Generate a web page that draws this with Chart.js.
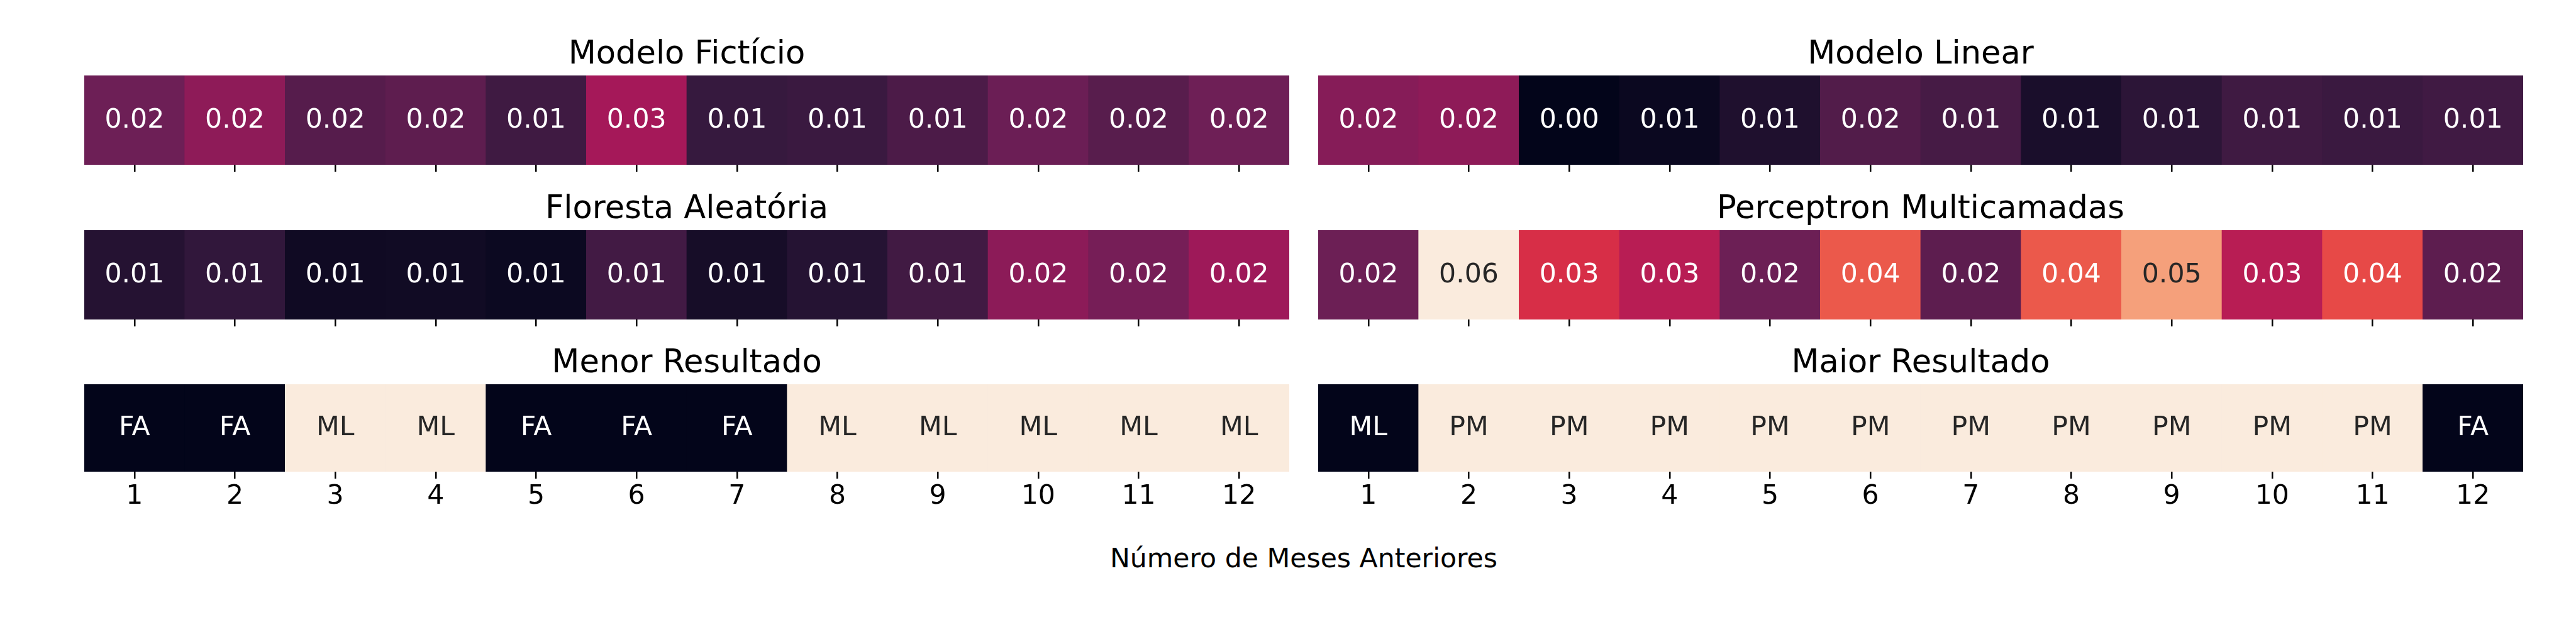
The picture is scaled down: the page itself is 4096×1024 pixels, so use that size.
<!DOCTYPE html>
<html>
<head>
<meta charset="utf-8">
<script src="https://cdn.jsdelivr.net/npm/chart.js@4.4.0/dist/chart.umd.min.js"></script>
<style>
  html, body { margin: 0; padding: 0; background: #fff; }
  body { width: 4096px; height: 1024px; position: relative; overflow: hidden; font-family: "DejaVu Sans"; }
  .panel { position: absolute; }
  #xlabel { position: absolute; left: 0; width: 4146px; text-align: center; font-size: 42.6px; line-height: 42.6px; color: #000; white-space: nowrap; }
</style>
</head>
<body>
<div id="xlabel">Número de Meses Anteriores</div>
<script>
// data
const months = ["1", "2", "3", "4", "5", "6", "7", "8", "9", "10", "11", "12"];
const modeloFicticio = [0.0187, 0.0228, 0.0157, 0.0167, 0.0127, 0.0256, 0.0116, 0.0121, 0.0144, 0.0184, 0.0160, 0.0188];
const modeloLinear = [0.0218, 0.0228, 0.0039, 0.0051, 0.0081, 0.0152, 0.0136, 0.0074, 0.0101, 0.0127, 0.0121, 0.0129];
const florestaAleatoria = [0.0090, 0.0109, 0.0058, 0.0060, 0.0053, 0.0132, 0.0069, 0.0091, 0.0130, 0.0225, 0.0198, 0.0248];
const perceptronMulticamadas = [0.0185, 0.0569, 0.0327, 0.0282, 0.0185, 0.0385, 0.0166, 0.0385, 0.0469, 0.0282, 0.0367, 0.0166];
const menorResultado = ["FA", "FA", "ML", "ML", "FA", "FA", "FA", "ML", "ML", "ML", "ML", "ML"];
const maiorResultado = ["ML", "PM", "PM", "PM", "PM", "PM", "PM", "PM", "PM", "PM", "PM", "FA"];

// seaborn "rocket" colormap, piecewise
const ROCKET = [
  [0, 3, 5, 26], [1 / 7, 53, 25, 62], [2 / 7, 112, 31, 87], [3 / 7, 173, 23, 89],
  [4 / 7, 225, 51, 66], [5 / 7, 243, 118, 81], [6 / 7, 246, 180, 143], [1, 250, 235, 221]
];
function rocket(t) {
  t = Math.max(0, Math.min(1, t));
  for (let i = 1; i < ROCKET.length; i++) {
    if (t <= ROCKET[i][0]) {
      const a = ROCKET[i - 1], b = ROCKET[i];
      const f = (t - a[0]) / (b[0] - a[0]);
      return [1, 2, 3].map(k => Math.round(a[k] + f * (b[k] - a[k])));
    }
  }
  return ROCKET[ROCKET.length - 1].slice(1);
}
function luminance(rgb) {
  const c = rgb.map(v => { v /= 255; return v <= 0.03928 ? v / 12.92 : Math.pow((v + 0.055) / 1.055, 2.4); });
  return 0.2126 * c[0] + 0.7152 * c[1] + 0.0722 * c[2];
}
const css = rgb => `rgb(${rgb[0]},${rgb[1]},${rgb[2]})`;
const textFor = rgb => luminance(rgb) > 0.408 ? "#262626" : "#ffffff";

// shared colour scale for the four numeric panels
const allVals = [].concat(modeloFicticio, modeloLinear, florestaAleatoria, perceptronMulticamadas);
const vmin = Math.min(...allVals), vmax = Math.max(...allVals);

function numericCells(vals) {
  const rgbs = vals.map(v => rocket((v - vmin) / (vmax - vmin)));
  return { text: vals.map(v => v.toFixed(2)), colors: rgbs.map(css), textColors: rgbs.map(textFor) };
}
function categoryCells(cats) {
  // most frequent winner is light, the others dark
  const counts = {};
  cats.forEach(c => counts[c] = (counts[c] || 0) + 1);
  const mode = Object.keys(counts).sort((a, b) => counts[b] - counts[a])[0];
  const rgbs = cats.map(c => rocket(c === mode ? 1 : 0));
  return { text: cats.slice(), colors: rgbs.map(css), textColors: rgbs.map(textFor) };
}

// layout (px, already at 0.682 scale)
const panelX = [134, 2096];
const panelW = 1916;
const rowTop = [120, 366, 611];
const cellH = 142;
const TITLE_BLOCK = 69;

const cellLabels = {
  id: "cellLabels",
  afterDatasetsDraw(chart) {
    const { ctx, chartArea } = chart;
    const ds = chart.data.datasets[0];
    const meta = chart.getDatasetMeta(0);
    const yMid = (chartArea.top + chartArea.bottom) / 2;
    ctx.save();
    ctx.font = '42.6px "DejaVu Sans"';
    ctx.textAlign = "center";
    ctx.textBaseline = "alphabetic";
    meta.data.forEach((bar, i) => {
      ctx.fillStyle = ds.cellTextColors[i];
      ctx.fillText(ds.cellText[i], bar.x, yMid + 11.6);
    });
    ctx.restore();
  }
};

function makePanel(row, col, title, cells) {
  const showLabels = row === 2;
  const axisH = showLabels ? 65 : 11;
  const h = TITLE_BLOCK + cellH + axisH;
  const div = document.createElement("div");
  div.className = "panel";
  div.style.left = panelX[col] + "px";
  div.style.top = (rowTop[row] - TITLE_BLOCK) + "px";
  div.style.width = panelW + "px";
  div.style.height = h + "px";
  const canvas = document.createElement("canvas");
  canvas.width = panelW;
  canvas.height = h;
  div.appendChild(canvas);
  document.body.appendChild(div);

  new Chart(canvas, {
    type: "bar",
    data: {
      labels: months,
      datasets: [{
        data: months.map(() => 1),
        backgroundColor: cells.colors,
        borderWidth: 0,
        barPercentage: 1,
        categoryPercentage: 1,
        cellText: cells.text,
        cellTextColors: cells.textColors
      }]
    },
    options: {
      responsive: false,
      devicePixelRatio: 1,
      animation: false,
      events: [],
      layout: { padding: 0 },
      scales: {
        x: {
          offset: true,
          border: { display: false },
          grid: {
            offset: false,
            drawOnChartArea: false,
            drawTicks: true,
            tickLength: 11,
            color: "#000",
            lineWidth: 2.5
          },
          ticks: {
            display: showLabels,
            padding: 2.88,
            color: "#000",
            maxRotation: 0,
            autoSkip: false,
            font: { family: "DejaVu Sans", size: 42.6, lineHeight: 1.2 }
          }
        },
        y: { display: false, min: 0, max: 1 }
      },
      plugins: {
        legend: { display: false },
        tooltip: { enabled: false },
        title: {
          display: true,
          text: title,
          color: "#000",
          font: { family: "DejaVu Sans", size: 51.1, weight: "normal", lineHeight: 1.2 },
          padding: { top: 6.1, bottom: 1.58 }
        }
      }
    },
    plugins: [cellLabels]
  });
}

makePanel(0, 0, "Modelo Fictício", numericCells(modeloFicticio));
makePanel(0, 1, "Modelo Linear", numericCells(modeloLinear));
makePanel(1, 0, "Floresta Aleatória", numericCells(florestaAleatoria));
makePanel(1, 1, "Perceptron Multicamadas", numericCells(perceptronMulticamadas));
makePanel(2, 0, "Menor Resultado", categoryCells(menorResultado));
makePanel(2, 1, "Maior Resultado", categoryCells(maiorResultado));

// shared x label, baseline near y = 902
document.getElementById("xlabel").style.top = "866px";
</script>
</body>
</html>
